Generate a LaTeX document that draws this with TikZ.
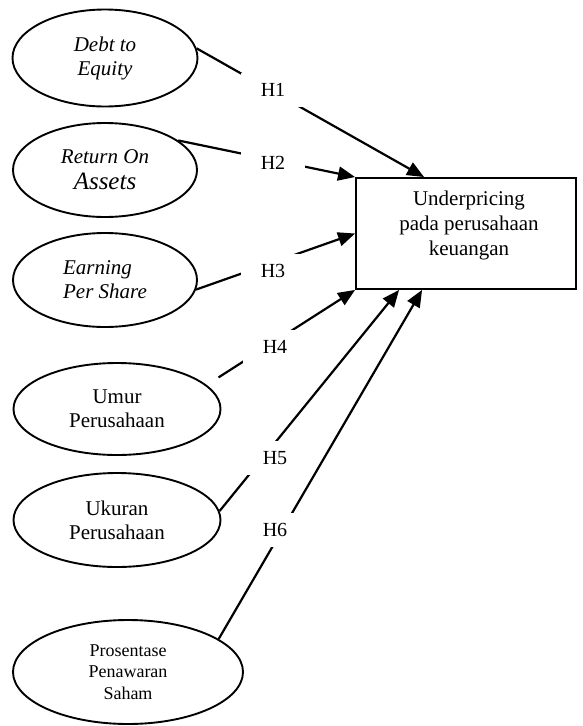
\documentclass[tikz,border=0pt]{standalone}
\usepackage{fontspec}
\setmainfont{Liberation Serif}
\usetikzlibrary{shapes.geometric,arrows.meta}
\tikzset{
  factor/.style={ellipse,draw=black,line width=1.9pt,inner sep=0pt,align=center,
                 font=\fontsize{21}{24}\selectfont},
  target/.style={rectangle,draw=black,line width=1.9pt,minimum width=220pt,minimum height=111pt},
  link/.style={-{Triangle[length=17pt,width=14pt]},line width=2.2pt},
  hyp/.style={fill=white,minimum width=64pt,minimum height=34pt,inner sep=0pt,
              font=\fontsize{20}{24}\selectfont},
}

\begin{document}
\begin{tikzpicture}[x=1pt,y=-1pt]
  \useasboundingbox (0,0) rectangle (583,726);
  % Independent variables
  \node[factor,minimum width=185pt,minimum height=97pt,font=\fontsize{21}{24}\selectfont\itshape]
    (e1) at (105,58) {Debt to\\Equity};
  \node[factor,minimum width=184pt,minimum height=94pt,font=\fontsize{21}{24}\selectfont\itshape]
    (e2) at (105,170) {Return On\\[2pt]{\fontsize{25}{28}\selectfont Assets}};
  \node[factor,minimum width=184pt,minimum height=94pt,align=left,
        font=\fontsize{21}{24}\selectfont\itshape] (e3) at (105,280) {Earning\\Per Share};
  \node[factor,minimum width=207pt,minimum height=92pt] (e4) at (117,409) {Umur\\Perusahaan};
  \node[factor,minimum width=207pt,minimum height=94pt] (e5) at (117,520) {Ukuran\\Perusahaan};
  \node[factor,minimum width=230pt,minimum height=104pt,font=\fontsize{18}{21.7}\selectfont]
    (e6) at (128,672) {Prosentase\\Penawaran\\Saham};
  % Dependent variable
  \node[target] (box) at (466,233.5) {};
  \node[font=\fontsize{21}{25}\selectfont,align=center,anchor=north,inner sep=0pt]
    (boxtext) at ([yshift=-14pt,xshift=3pt]box.north) {Underpricing\\pada perusahaan\\keuangan};
  % Hypotheses
  \draw[link] (e1.6) -- ([xshift=69pt]box.north west);
  \draw[link] (e2.22) -- (box.north west);
  \draw[link] (e3.-6) -- (box.west);
  \draw[link,shorten <=14pt] (e4.15) -- (box.south west);
  \draw[link] (e5.5) -- ([xshift=44pt]box.south west);
  \draw[link] (e6.20) -- ([xshift=67pt]box.south west);
  \foreach \k/\x/\y in {1/273/90,2/273/163,3/273/271,4/275/347,5/275/458,6/275/530}{
    \node[hyp] (h\k) at (\x,\y) {H\k};
  }
\end{tikzpicture}
\end{document}
